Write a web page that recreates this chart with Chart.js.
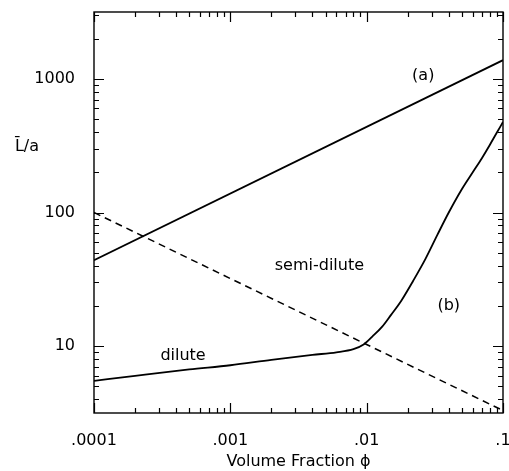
<!DOCTYPE html>
<html><head><meta charset="utf-8">
<script src="https://cdn.jsdelivr.net/npm/chart.js@4/dist/chart.umd.min.js"></script>
<style>html,body{margin:0;padding:0;background:#fff}#wrap{width:509px;height:471px}</style>
</head><body><div id="wrap"><canvas id="c" width="509" height="471"></canvas></div>
<script>
// Line (a): upper boundary
const phiA = [0.0001, 0.1];
const lenA = [44, 1380];
// Dashed crossover line
const phiDash = [0.0001, 0.1];
const lenDash = [100, 3.3];
// Curve (b)
const phiB = [0.0001, 0.0002, 0.0005, 0.001, 0.002, 0.004, 0.006, 0.008, 0.0095, 0.011, 0.013, 0.015, 0.018, 0.022, 0.027, 0.033, 0.04, 0.05, 0.06, 0.07, 0.08, 0.09, 0.1];
const lenB = [5.5, 6.0, 6.7, 7.2, 7.9, 8.6, 9.0, 9.5, 10.3, 11.8, 14.0, 17.0, 22.0, 31.0, 45.0, 68.0, 100.0, 150.0, 200.0, 255.0, 320.0, 395.0, 475.0];
// Axis ticks
const xTickValues = [0.0001, 0.001, 0.01, 0.1];
const xTickLabels = ['.0001', '.001', '.01', '.1'];
const yTickValues = [10, 100, 1000];
const yTickLabels = ['10', '100', '1000'];
// Text annotations (data coordinates)
const notes = [
  {text: '(a)', x: 0.026, y: 1050},
  {text: 'semi-dilute', x: 0.0045, y: 40},
  {text: 'dilute', x: 0.00045, y: 8.4},
  {text: '(b)', x: 0.04, y: 20}
];

const FONT = 'DejaVu Sans';
const pts = (xs, ys) => xs.map((x, i) => ({x, y: ys[i]}));

const frameTicks = {
  id: 'frameTicks',
  afterDatasetsDraw(chart) {
    const {ctx, chartArea: a, scales: {x, y}} = chart;
    ctx.save();
    ctx.strokeStyle = '#000';
    ctx.lineWidth = 1.4;
    ctx.strokeRect(a.left, a.top, a.right - a.left, a.bottom - a.top);
    ctx.lineWidth = 1.2;
    const mant = [1,2,3,4,5,6,7,8,9];
    for (let e = -4; e <= -1; e++) {
      mant.forEach(m => {
        const v = m * Math.pow(10, e);
        if (v < x.min * 0.999 || v > x.max * 1.001) return;
        const px = Math.round(x.getPixelForValue(v)) + 0.5;
        const L = m === 1 ? 10 : 5;
        ctx.beginPath();
        ctx.moveTo(px, a.bottom); ctx.lineTo(px, a.bottom - L);
        ctx.moveTo(px, a.top); ctx.lineTo(px, a.top + L);
        ctx.stroke();
      });
    }
    for (let e = 0; e <= 3; e++) {
      mant.forEach(m => {
        const v = m * Math.pow(10, e);
        if (v < y.min * 0.999 || v > y.max * 1.001) return;
        const py = Math.round(y.getPixelForValue(v)) + 0.5;
        const L = m === 1 ? 10 : 5;
        ctx.beginPath();
        ctx.moveTo(a.left, py); ctx.lineTo(a.left + L, py);
        ctx.moveTo(a.right, py); ctx.lineTo(a.right - L, py);
        ctx.stroke();
      });
    }
    ctx.fillStyle = '#000';
    ctx.font = '16px "' + FONT + '"';
    ctx.textAlign = 'center';
    ctx.textBaseline = 'middle';
    notes.forEach(n => ctx.fillText(n.text, x.getPixelForValue(n.x), y.getPixelForValue(n.y)));
    ctx.fillText('L\u0304/a', 27, y.getPixelForValue(310));
    ctx.restore();
  }
};

const zeroPad = s => { s.paddingLeft = 0; s.paddingRight = 0; s.paddingTop = 0; s.paddingBottom = 0; };

new Chart(document.getElementById('c'), {
  type: 'scatter',
  data: {
    datasets: [
      {data: pts(phiA, lenA), showLine: true, borderColor: '#000', borderWidth: 1.8, pointRadius: 0},
      {data: pts(phiDash, lenDash), showLine: true, borderColor: '#000', borderWidth: 1.5, borderDash: [7, 5], pointRadius: 0},
      {data: pts(phiB, lenB), showLine: true, borderColor: '#000', borderWidth: 1.8, pointRadius: 0, cubicInterpolationMode: 'monotone'}
    ]
  },
  options: {
    responsive: false,
    animation: false,
    events: [],
    plugins: {legend: {display: false}, tooltip: {enabled: false}},
    layout: {padding: {top: 12, right: 6, left: 0, bottom: 0}},
    scales: {
      x: {
        type: 'logarithmic', min: 0.0001, max: 0.1,
        grid: {display: false}, border: {display: false},
        afterBuildTicks: s => { s.ticks = xTickValues.map(v => ({value: v})); },
        afterFit: s => { s.height = 58; zeroPad(s); },
        ticks: {
          autoSkip: false, maxRotation: 0, padding: 10, color: '#000',
          font: {family: FONT, size: 16},
          callback: v => xTickLabels[xTickValues.indexOf(v)]
        },
        title: {display: true, text: 'Volume Fraction \u03d5', color: '#000', font: {family: FONT, size: 16}, padding: {top: 4, bottom: 0}}
      },
      y: {
        type: 'logarithmic', min: Math.pow(10, 0.5), max: Math.pow(10, 3.5),
        grid: {display: false}, border: {display: false},
        afterBuildTicks: s => { s.ticks = yTickValues.map(v => ({value: v})); },
        afterFit: s => { s.width = 94; zeroPad(s); },
        ticks: {
          autoSkip: false, padding: 11, color: '#000',
          font: {family: FONT, size: 16},
          callback: v => yTickLabels[yTickValues.indexOf(v)]
        }
      }
    }
  },
  plugins: [frameTicks]
});
</script></body></html>
